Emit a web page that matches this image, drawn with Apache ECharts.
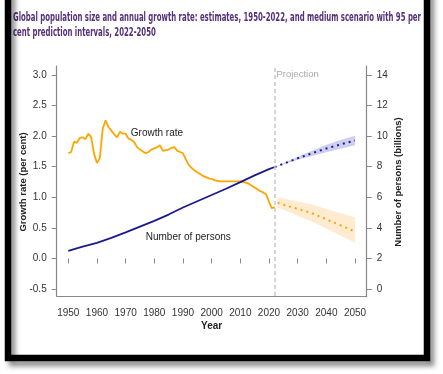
<!DOCTYPE html>
<html>
<head>
<meta charset="utf-8">
<script src="https://cdn.jsdelivr.net/npm/echarts@6/dist/echarts.min.js"></script>
<style>
html,body{margin:0;padding:0;background:#fff;}
#chart{width:443px;height:374px;}
</style>
</head>
<body>
<div id="chart"></div>
<script>
// ---- Data ----
const titleLines = [
  'Global population size and annual growth rate: estimates, 1950-2022, and medium scenario with 95 per',
  'cent prediction intervals, 2022-2050'
];
const xTicks = [1950, 1960, 1970, 1980, 1990, 2000, 2010, 2020, 2030, 2040, 2050];
const rateTicks = [-0.5, 0.0, 0.5, 1.0, 1.5, 2.0, 2.5, 3.0];
const popTicks = [0, 2, 4, 6, 8, 10, 12, 14];

const rateYears = [1950,1951,1952,1953,1954,1955,1956,1957,1958,1959,1960,1961,1962,1963,1964,1965,1966,1967,1968,1969,
  1970,1971,1972,1973,1974,1975,1976,1977,1978,1979,1980,1981,1982,1983,1984,1985,1986,1987,1988,1989,
  1990,1991,1992,1993,1994,1995,1996,1997,1998,1999,2000,2001,2002,2003,2004,2005,2006,2007,2008,2009,
  2010,2011,2012,2013,2014,2015,2016,2017,2018,2019,2020,2021,2022];
const rateValues = [1.72,1.74,1.91,1.89,1.97,1.98,1.95,2.04,1.98,1.71,1.56,1.64,2.12,2.26,2.15,2.09,2.03,1.98,2.07,2.04,
  2.04,1.96,1.94,1.90,1.82,1.78,1.75,1.72,1.74,1.78,1.80,1.82,1.85,1.76,1.77,1.78,1.81,1.82,1.76,1.74,
  1.72,1.62,1.53,1.48,1.44,1.41,1.38,1.35,1.33,1.31,1.30,1.28,1.27,1.26,1.26,1.26,1.26,1.26,1.26,1.26,
  1.26,1.25,1.24,1.22,1.19,1.16,1.13,1.10,1.08,1.05,0.93,0.82,0.84];

const projYears = [2023, 2025, 2030, 2035, 2040, 2045, 2050];
const rateProj = [0.91, 0.88, 0.81, 0.74, 0.64, 0.54, 0.44];
const rateProjLow = [0.83, 0.80, 0.70, 0.60, 0.49, 0.37, 0.26];
const rateProjHigh = [1.00, 0.98, 0.93, 0.88, 0.81, 0.74, 0.67];

const popYears = [1950,1955,1960,1965,1970,1975,1980,1985,1990,1995,2000,2005,2010,2015,2020,2022];
const popValues = [2.50,2.77,3.02,3.34,3.70,4.08,4.46,4.87,5.33,5.74,6.15,6.56,6.99,7.43,7.84,7.98];

const popProjYears = [2022, 2025, 2030, 2035, 2040, 2045, 2050];
const popProj = [7.98, 8.19, 8.55, 8.88, 9.19, 9.46, 9.71];
const popProjLow = [7.98, 8.15, 8.45, 8.70, 8.95, 9.18, 9.40];
const popProjHigh = [7.98, 8.23, 8.65, 9.05, 9.43, 9.75, 10.02];

const projectionYear = 2022;

// ---- Helpers ----
const zip = (xs, ys) => xs.map((x, i) => [x, ys[i]]);
function bandSeries(years, low, high, color, yAxisIndex) {
  return {
    type: 'custom',
    xAxisIndex: 0, yAxisIndex: yAxisIndex,
    silent: true, z: 1,
    data: [[years[0], high[0]]],
    renderItem: function (params, api) {
      const pts = [];
      for (let i = 0; i < years.length; i++) pts.push(api.coord([years[i], high[i]]));
      for (let i = years.length - 1; i >= 0; i--) pts.push(api.coord([years[i], low[i]]));
      return { type: 'polygon', shape: { points: pts }, style: { fill: color } };
    }
  };
}
function textMark(coord, text, color, size) {
  return {
    symbol: 'circle', symbolSize: 0, silent: true,
    itemStyle: { color: 'transparent' },
    label: { show: true, position: 'right', distance: 0, color: color, fontSize: size, fontFamily: FONT, formatter: text },
    data: [{ coord: coord, value: 0 }]
  };
}

const FONT = '"Liberation Sans", Arial, sans-serif';
const AX = '#888888';
const TXT = '#333333';

// Title scaling to fit target width
const titleFont = 'bold 12px "Liberation Sans Narrow", "DejaVu Sans Condensed", sans-serif';
const cv = document.createElement('canvas').getContext('2d');
cv.font = titleFont;
const w1 = cv.measureText(titleLines[0]).width;
const titleScale = 408 / w1;

const chart = echarts.init(document.getElementById('chart'), null, { renderer: 'canvas' });

const option = {
  animation: false,
  backgroundColor: '#ffffff',
  graphic: [
    {
      type: 'rect', z: 100,
      shape: { x: 8, y: -20, width: 419, height: 378 },
      style: { fill: 'none', stroke: '#000', lineWidth: 6.5, shadowBlur: 5, shadowOffsetX: 4, shadowOffsetY: 5, shadowColor: 'rgba(0,0,0,0.45)' }
    },
    {
      type: 'group', x: 13, y: 12, scaleX: titleScale,
      children: [
        { type: 'text', x: 0, y: 0, style: { text: titleLines[0], font: titleFont, fill: '#55307a' } },
        { type: 'text', x: 0, y: 15, style: { text: titleLines[1], font: titleFont, fill: '#55307a' } }
      ]
    }
  ],
  grid: [
    { left: 68.3, right: 88, top: 75, bottom: 85 },
    { left: 56.7, right: 76.3, top: 66, bottom: 78 }
  ],
  xAxis: [
    {
      type: 'value', gridIndex: 0, min: xTicks[0], max: xTicks[xTicks.length - 1], interval: 10,
      offset: 8,
      axisLine: { show: false },
      axisTick: { show: true, length: 5, lineStyle: { color: AX } },
      axisLabel: { margin: 11, color: TXT, fontSize: 10, fontFamily: FONT, formatter: v => String(v) },
      splitLine: { show: false },
      name: 'Year', nameLocation: 'middle', nameGap: 24, nameMoveOverlap: false,
      nameTextStyle: { fontWeight: 'bold', fontSize: 10, color: '#222', fontFamily: FONT }
    },
    {
      type: 'value', gridIndex: 1, min: 1945.95, max: 2054.08,
      axisLine: { show: true, onZero: false, lineStyle: { color: AX, width: 1.2 } },
      axisTick: { show: false }, axisLabel: { show: false }, splitLine: { show: false }
    }
  ],
  yAxis: [
    {
      type: 'value', gridIndex: 0, position: 'left', min: rateTicks[0], max: rateTicks[rateTicks.length - 1], interval: 0.5,
      offset: 11.6,
      axisLine: { show: false },
      axisTick: { show: true, length: 5, lineStyle: { color: AX } },
      axisLabel: { margin: 10, color: TXT, fontSize: 10, fontFamily: FONT, formatter: v => v.toFixed(1) },
      splitLine: { show: false },
      name: 'Growth rate (per cent)', nameLocation: 'middle', nameGap: 28, nameRotate: 90, nameMoveOverlap: false,
      nameTextStyle: { fontWeight: 'bold', fontSize: 9.5, color: '#222', fontFamily: FONT }
    },
    {
      type: 'value', gridIndex: 0, position: 'right', min: popTicks[0], max: popTicks[popTicks.length - 1], interval: 2,
      offset: 11.7,
      axisLine: { show: false },
      axisTick: { show: true, length: 5, lineStyle: { color: AX } },
      axisLabel: { margin: 10, color: TXT, fontSize: 10, fontFamily: FONT },
      splitLine: { show: false },
      name: 'Number of persons (billions)', nameLocation: 'middle', nameGap: 27, nameRotate: 90, nameMoveOverlap: false,
      nameTextStyle: { fontWeight: 'bold', fontSize: 9.5, color: '#222', fontFamily: FONT }
    },
    {
      type: 'value', gridIndex: 1, position: 'left', min: -0.626, max: 3.135,
      axisLine: { show: true, onZero: false, lineStyle: { color: AX, width: 1.2 } },
      axisTick: { show: false }, axisLabel: { show: false }, splitLine: { show: false }
    },
    {
      type: 'value', gridIndex: 1, position: 'right', min: -0.626, max: 3.135,
      axisLine: { show: true, onZero: false, lineStyle: { color: AX, width: 1.2 } },
      axisTick: { show: false }, axisLabel: { show: false }, splitLine: { show: false }
    }
  ],
  series: [
    {
      type: 'line', xAxisIndex: 1, yAxisIndex: 2, data: [], silent: true,
      markLine: {
        silent: true, symbol: 'none', label: { show: false },
        lineStyle: { color: '#c8c8c8', type: [4, 3], width: 1.5 },
        data: [{ xAxis: projectionYear }]
      },
      markPoint: textMark([projectionYear + 0.6, 2.99], 'Projection', '#aaaaaa', 9.5)
    },
    bandSeries(projYears, rateProjLow, rateProjHigh, 'rgba(255,170,40,0.22)', 0),
    bandSeries(popProjYears, popProjLow, popProjHigh, 'rgba(60,60,190,0.25)', 1),
    {
      type: 'line', xAxisIndex: 0, yAxisIndex: 0, data: zip(rateYears, rateValues),
      symbol: 'none', lineStyle: { color: '#FFA500', width: 1.8 }, z: 3,
      markPoint: textMark([1971.8, 2.04], 'Growth rate', '#222', 10)
    },
    {
      type: 'line', xAxisIndex: 0, yAxisIndex: 0, data: zip(projYears, rateProj),
      symbol: 'none', lineStyle: { color: '#FFA500', width: 2, type: [2, 4] }, z: 3
    },
    {
      type: 'line', xAxisIndex: 0, yAxisIndex: 1, data: zip(popYears, popValues),
      symbol: 'none', lineStyle: { color: '#1a1a8f', width: 1.8 }, z: 3,
      markPoint: textMark([1977, 3.4], 'Number of persons', '#222', 10)
    },
    {
      type: 'line', xAxisIndex: 0, yAxisIndex: 1, data: zip(popProjYears, popProj),
      symbol: 'none', lineStyle: { color: '#1a1a8f', width: 2, type: [2, 4] }, z: 3
    }
  ]
};
chart.setOption(option);
</script>
</body>
</html>
